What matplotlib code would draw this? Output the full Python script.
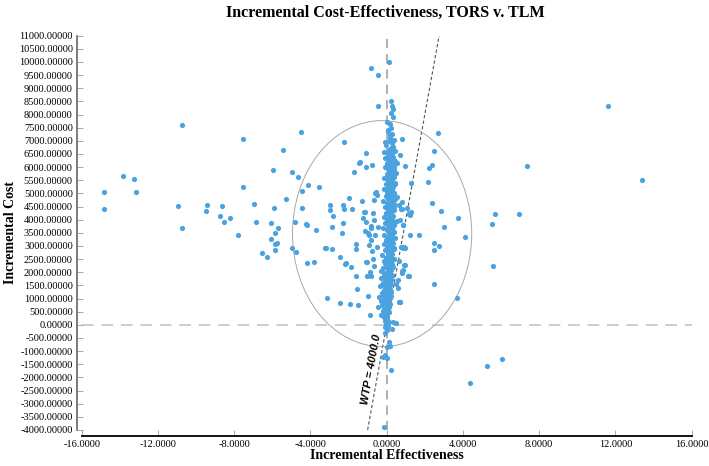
import numpy as np
import matplotlib
matplotlib.use("Agg")
import matplotlib.pyplot as plt
from matplotlib.patches import Ellipse

# ---- data ------------------------------------------------------------------
# scattered simulations (incremental effectiveness, incremental cost)
scatter_x = [-14.83, -14.83, -13.82, -13.26, -13.17, -10.72, -10.97, -10.72,
             -9.41, -9.48, -8.63, -8.75, -8.54, -8.21, -7.80, -7.56, -7.54, -6.96,
             -6.87, -6.54, -6.28, -6.09, -6.05, -5.88, -5.70, -5.90, -5.97, -5.86,
             -5.74, -5.86, -5.46, -5.27, -4.97, -4.65, -4.51, -4.44, -4.43, -4.13,
             -4.98, -4.76, -4.81, -4.23, -4.18, -3.73, -3.55, -4.18, -3.83, -2.99,
             -2.96, -2.82, -2.89, -2.26, -2.31, -2.24, -2.29, -2.36, -1.96, -1.80,
             -1.70, -1.45, -3.24, -3.17, -2.85, -2.47, -2.17, -1.86, -1.61, -1.63,
             -1.63, -1.56, -3.15,
             0.12, -0.81, -0.44, -0.46, -1.07, -1.40, -1.07, -0.77,
             -1.28, -0.61, -0.65, -1.18, -0.73, -1.23, -0.67, -1.09, -0.81, -0.84,
             -1.15, -1.00, -0.46, -0.60, -0.91, -0.82, -0.93, -0.52, -0.79, -1.05,
             -0.72, -0.65, -0.89, -1.05, -0.82, -2.45, -1.94, -1.49, -0.96, -0.89,
             -2.14, -1.10, -0.58, -0.52, -1.14,
             0.79, 2.69, 2.48, 0.94, 2.39, 2.22, 7.38, 11.61, 13.40, 2.15, 1.29,
             2.39, 2.86, 1.27, 1.17, 0.79, 3.72, 5.68, 6.96, 5.52, 3.02, 0.87, 1.22,
             1.71, 4.09, 2.50, 2.76, 2.47, 0.84, 0.94, 5.56, 0.94, 0.86, 0.79, 1.15,
             2.50, 3.71, 0.70, 5.26, 6.07, 4.37,
             0.68, 0.54, 0.56, 0.66, 0.77, 0.68, 0.56, 1.19, 1.24, 0.86, 0.77, 0.91,
             0.66, 0.92, 0.82, 1.13, 0.58, 0.49, 0.58, 0.68, 0.79, 1.05, 0.66,
             0.00, -0.09, 0.14, 0.00, -0.18, 0.00, -0.10, 0.21, -0.12, 0.49, 0.30,
             0.17, 0.35,
             0.21, 0.26, 0.35, 0.23, 0.33, 0.03, 0.08, 0.19, -0.14, -0.07]
scatter_y = [5057, 4422, 5665, 5551, 5068, 7616, 4524, 3700,
             4562, 4346, 4536, 4133, 3916, 4057, 3433, 7060, 5258, 4589,
             3916, 2737, 2597, 3270, 3878, 3510, 3688, 4448, 5905, 3080,
             3106, 2851, 6653, 4791, 5805, 5627, 7338, 5106, 4448, 5334,
             2939, 2764, 3928, 3851, 3802, 3623, 5235, 2369, 2395, 4574,
             4372, 4144, 3726, 6946, 4551, 4410, 3878, 3486, 4829, 4399,
             5805, 6171, 2927, 2916, 2878, 2585, 2319, 2217, 3080, 2901,
             1851, 1369, 1027,
             10011, 9760, 9505, 8315, 6551, 6186, 5996, 6072,
             4726, 5030, 4753, 4296, 4258, 4057, 3981, 3928, 3764, 3676,
             3585, 3510, 3714, 3410, 3422, 3220, 3030, 2977, 2802, 2384,
             2509, 2243, 2027, 1863, 1851, 848, 798, 772, 1103, 392,
             2346, 2395, 5068, 4943, 4308,
             7083, 7288, 6627, 6045, 6095, 5969, 6045, 8338, 5501, 5448, 5387,
             4650, 4334, 4285, 4209, 4422, 4080, 4209, 4209, 3851, 3737, 3813, 3422,
             3422, 3334, 3129, 3004, 2851, 2939, 2939, 2255, 2270, 2091, 1966, 1863,
             1570, 1027, 863, -1559, -1293, -2217,
             6451, 6171, 4878, 4551, 4422, 3992, 3966, 4270, 4194, 3790, 2977, 2954,
             2422, 2293, 2065, 1874, 1711, 1559, 1418, 874, 4688, 4450, 863,
             -190, -316, -635, -825, -1205, -1266, -1150, -1711, -3890, 65, -150,
             -800, 120,
             8528, 8326, 8201, 8049, 7897, 7718, 7414, 7236, 6590, 6970]

# the dense column of simulations around zero effectiveness
column_x = [0.15, 0.22, 0.05, 0.30, 0.18, 0.40, 0.10, 0.26, -0.05, 0.35, 0.20, 0.12,
            0.42, 0.28, 0.05, 0.18, 0.33, -0.10, 0.25, 0.10, 0.45, 0.20, 0.02, 0.30,
            0.15, 0.38, -0.08, 0.22, 0.08, 0.32, 0.18, 0.48, 0.00, 0.26, 0.12, 0.36,
            -0.15, 0.20, 0.06, 0.30, 0.16, 0.42, -0.04, 0.24, 0.10, 0.34, 0.18, -0.12,
            0.28, 0.04, 0.38, 0.14, 0.22, -0.06, 0.32, 0.08, 0.44, 0.18, -0.18, 0.26,
            0.02, 0.36, 0.12, 0.20, -0.10, 0.30, 0.06, 0.40, 0.16, -0.02, 0.24, 0.10,
            0.34, -0.14, 0.20, 0.04, 0.28, 0.14, 0.46, -0.08, 0.22, 0.08, 0.32, 0.16,
            -0.20, 0.26, 0.00, 0.38, 0.12, 0.20, -0.12, 0.30, 0.06, 0.42, 0.14, -0.04,
            0.24, 0.10, 0.34, -0.16, 0.18, 0.02, 0.28, 0.12, 0.40, -0.10, 0.20, 0.06,
            0.30, -0.22, 0.14, 0.24, -0.02, 0.36, 0.10, -0.14, 0.18, 0.04, 0.28, -0.06,
            0.14, 0.32, -0.18, 0.08, 0.22, -0.28, 0.12, 0.00, 0.26, -0.12, 0.16, -0.30,
            0.06, 0.20, -0.08, 0.10, -0.20, 0.24, 0.02, -0.36, 0.14, -0.04, 0.18, -0.16,
            0.06, -0.26, 0.10, -0.06, 0.20, -0.40, 0.02, -0.14, 0.12, -0.30, 0.04, -0.10,
            0.16, -0.22, 0.00, -0.44, 0.08, -0.12, 0.02, -0.20, 0.10, -0.06, -0.32, 0.04,
            -0.14, 0.00, -0.08, 0.12, -0.02, 0.06, -0.10,
            0.30, 0.08, 0.36, 0.24, 0.10, 0.40, 0.14, 0.30, 0.00, 0.20, 0.44, 0.06,
            0.26, 0.34, 0.00, 0.28, 0.16, 0.38, 0.22, 0.08, 0.28, 0.18, 0.02, 0.36,
            0.10, 0.24, 0.16, 0.30, -0.02, 0.22, 0.36, 0.08, 0.16, 0.04, 0.26, -0.10,
            0.20, 0.08, -0.16, 0.30, -0.02, 0.14, -0.24, 0.06, 0.22, -0.20, 0.16, 0.00,
            -0.06, 0.12]
column_y = [7650, 7500, 7380, 7250, 7120, 7050, 6980, 6900, 6850, 6780, 6720, 6660,
            6600, 6560, 6500, 6450, 6400, 6360, 6310, 6270, 6230, 6190, 6150, 6110,
            6070, 6030, 5990, 5950, 5910, 5870, 5830, 5790, 5750, 5710, 5670, 5630,
            5590, 5550, 5510, 5470, 5430, 5390, 5350, 5310, 5270, 5230, 5190, 5150,
            5110, 5070, 5030, 4990, 4950, 4910, 4870, 4830, 4790, 4750, 4710, 4670,
            4630, 4590, 4550, 4510, 4470, 4430, 4390, 4350, 4310, 4270, 4230, 4190,
            4150, 4110, 4070, 4030, 3990, 3950, 3910, 3870, 3830, 3790, 3750, 3710,
            3670, 3630, 3590, 3550, 3510, 3470, 3430, 3390, 3350, 3310, 3270, 3230,
            3190, 3150, 3110, 3070, 3030, 2990, 2950, 2910, 2870, 2830, 2790, 2750,
            2710, 2670, 2630, 2590, 2550, 2510, 2470, 2430, 2390, 2350, 2310, 2270,
            2230, 2190, 2150, 2110, 2070, 2030, 1990, 1950, 1910, 1870, 1830, 1790,
            1750, 1710, 1670, 1630, 1590, 1550, 1510, 1470, 1430, 1390, 1350, 1310,
            1270, 1230, 1190, 1150, 1110, 1070, 1030, 990, 950, 910, 870, 830,
            790, 750, 710, 670, 630, 590, 550, 510, 470, 430, 380, 330,
            280, 220, 160, 100, 40, -30, -100,
            6540, 6420, 6290, 6170, 6040, 5920, 5800, 5690, 5570, 5460, 5340, 5220,
            5090, 4970, 4860, 4740, 4620, 4500, 4380, 4260, 4140, 4020, 3900, 3780,
            3660, 3540, 3420, 3300, 3180, 3060, 2940, 2820, 2700, 2580, 2460, 2340,
            2220, 2100, 1980, 1860, 1740, 1620, 1500, 1380, 1260, 1140, 1020, 900,
            780, 660]

wtp = 4000.0
ellipse_center = (-0.24, 3470)
ellipse_size = (9.4, 8600)   # full width (effect), full height (cost)

xticks = [-16, -12, -8, -4, 0, 4, 8, 12, 16]
yticks = list(range(-4000, 11001, 500))

# ---- figure ----------------------------------------------------------------
serif = "Liberation Serif"
fig = plt.figure(figsize=(7.09, 4.66), dpi=100)
ax = fig.add_axes([0.1152, 0.0773, 0.8604, 0.8461])
ax.set_xlim(-16, 16)
ax.set_ylim(-4000, 11000)

# reference lines
ax.axhline(0, color="#cccccc", lw=1.4, ls=(0, (6, 4)), zorder=1)
ax.axvline(0, color="#9a9a9a", lw=1.1, ls=(0, (6, 4)), zorder=1)
wy = np.array([-4000, 11000])
ax.plot(wy / wtp, wy, color="#555555", lw=0.8, ls=(0, (3, 2)), zorder=1)

ax.add_patch(Ellipse(ellipse_center, ellipse_size[0], ellipse_size[1],
                     fill=False, ec="#a8a8a8", lw=0.7, zorder=1))

dot = "#4aa3df"
ax.scatter(column_x, column_y, s=14, color=dot, linewidths=0, zorder=3)
ax.scatter(scatter_x, scatter_y, s=14, color=dot, linewidths=0, zorder=3)

# WTP label, rotated along the line
p0 = ax.transData.transform((0, 0))
p1 = ax.transData.transform((11000 / wtp, 11000))
ang = np.degrees(np.arctan2(p1[1] - p0[1], p1[0] - p0[0]))
ax.text(-0.82, -1700, "WTP = 4000.0", rotation=ang, rotation_mode="anchor",
        ha="center", va="center", family="Liberation Sans", fontsize=8,
        fontweight="bold", fontstyle="italic", color="black", zorder=4)

# axes styling
for s in ["top", "right"]:
    ax.spines[s].set_visible(False)
ax.spines["left"].set_position(("outward", 3.4))
ax.spines["bottom"].set_position(("outward", 4.3))
ax.spines["left"].set_color("#666666")
ax.spines["left"].set_linewidth(1.2)
ax.spines["bottom"].set_color("black")
ax.spines["bottom"].set_linewidth(1.3)

ax.set_xticks(xticks)
ax.set_xticklabels(["%.4f" % v for v in xticks], family=serif, fontsize=7.5)
ax.set_yticks(yticks)
ax.set_yticklabels(["%.5f" % v for v in yticks], family=serif, fontsize=7.5)
ax.tick_params(axis="both", direction="in", length=4, width=0.6,
               color="#999999", pad=3)

ax.set_xlabel("Incremental Effectiveness", family=serif, fontsize=10,
              fontweight="bold", labelpad=0)
ax.set_ylabel("Incremental Cost", family=serif, fontsize=10,
              fontweight="bold", labelpad=1)
fig.text(0.543, 0.972, "Incremental Cost-Effectiveness, TORS v. TLM",
         family=serif, fontsize=11.5, fontweight="bold", ha="center", va="center")

fig.savefig("out.png", dpi=100)
